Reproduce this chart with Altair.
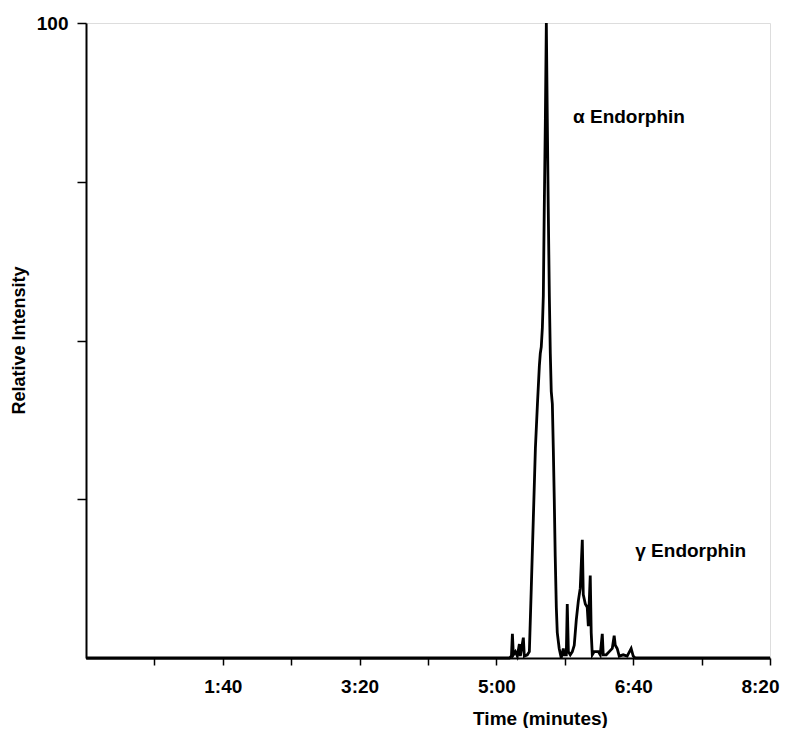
import altair as alt
import pandas as pd

# Chromatogram trace: time (s) and relative intensity (%)
time_s = [0, 100, 200, 300, 309.5, 311.0, 311.7, 312.4, 313.9, 315.3, 316.8, 317.5, 319.7, 320.4,
          322.6, 324.1, 325.5, 327.0, 328.5, 330.0, 331.4, 332.1, 332.8, 333.6, 334.3, 335.0,
          335.8, 336.5, 337.2, 337.9, 338.7, 339.4, 340.1, 340.9, 341.6, 342.3, 343.0, 343.8,
          344.5, 345.9, 347.4, 348.9, 349.6, 351.1, 351.8, 352.6, 354.0, 355.5, 356.9, 358.4,
          359.9, 361.3, 362.8, 363.5, 365.0, 366.4, 367.2, 368.6, 369.3, 370.1, 371.5, 373.0,
          374.5, 375.9, 377.4, 378.1, 380.3, 382.5, 384.7, 386.1, 386.9, 388.3, 389.8, 392.7,
          395.6, 398.5, 400.0, 401.5, 450, 500]
intensity = [0, 0, 0, 0, 0, 0.3, 3.8, 0.5, 1.0, 0.3, 2.2, 0.3, 3.2, 0.3,
             0.5, 1.0, 11, 22, 33, 40, 46, 48, 49, 52, 57, 71,
             85, 100, 85, 71, 57, 48, 42, 40, 33, 25, 16, 8,
             4, 1.5, 0, 1.5, 0.5, 0.5, 8.5, 1.0, 0.5, 1.0, 2.0, 6.0,
             9.0, 11, 18.6, 10, 8.5, 8.0, 5.0, 13, 4.0, 0.5, 1.0, 1.0,
             1.0, 0.5, 3.8, 0.5, 0.5, 1.0, 1.5, 3.5, 2.0, 1.5, 0.3, 0.5,
             0.3, 1.5, 0.3, 0, 0, 0]

x_tick_values = [50, 100, 150, 200, 250, 300, 350, 400, 450, 500]
x_tick_labels = {100: "1:40", 200: "3:20", 300: "5:00", 400: "6:40", 500: "8:20"}
y_tick_values = [25, 50, 75, 100]
y_tick_labels = {100: "100"}

ann_text = ["\u03b1 Endorphin", "\u03b3 Endorphin"]
ann_time = [356, 401.5]
ann_int = [84.3, 15.9]

FONT = "Liberation Sans"


def label_expr(mapping):
    expr = "''"
    for k, v in mapping.items():
        expr = f"datum.value == {k} ? '{v}' : ({expr})"
    return expr


trace = pd.DataFrame({"t": time_s, "i": intensity})
ann = pd.DataFrame({"text": ann_text, "t": ann_time, "i": ann_int})

x_scale = alt.Scale(domain=[0, 500], nice=False, zero=False)
y_scale = alt.Scale(domain=[0, 100], nice=False)

line = alt.Chart(trace).mark_line(color="black", strokeWidth=2.8, strokeJoin="miter").encode(
    x=alt.X("t:Q", scale=x_scale, axis=alt.Axis(
        values=x_tick_values, labelExpr=label_expr(x_tick_labels), title="Time (minutes)",
        grid=False, domainColor="black", domainWidth=2, tickColor="black", tickWidth=1.5,
        tickSize=7, labelPadding=12, labelFont=FONT, labelFontSize=19, labelFontWeight="bold",
        labelColor="black", labelFlush=True, labelFlushOffset=9, labelOverlap=False,
        titleFont=FONT, titleFontSize=19, titleFontWeight="bold", titleColor="black",
        titleX=454, titleY=66, titleBaseline="alphabetic", titleAlign="center")),
    y=alt.Y("i:Q", scale=y_scale, axis=alt.Axis(
        values=y_tick_values, labelExpr=label_expr(y_tick_labels), title="Relative Intensity",
        grid=False, domainColor="black", domainWidth=2, tickColor="black", tickWidth=1.5,
        tickSize=9, labelPadding=9, labelFont=FONT, labelFontSize=19, labelFontWeight="bold",
        labelColor="black", labelFlush=False, labelOverlap=False, labelBaseline="middle",
        titleFont=FONT, titleFontSize=18, titleFontWeight="bold", titleColor="black",
        titleX=-67, titleY=317, titleAngle=-90, titleBaseline="middle", titleAlign="center")),
)

text = alt.Chart(ann).mark_text(align="left", baseline="alphabetic", font=FONT, fontSize=19,
                                fontWeight="bold", color="black").encode(
    x=alt.X("t:Q", scale=x_scale), y=alt.Y("i:Q", scale=y_scale), text="text:N")

chart = alt.layer(line, text).properties(
    width=684, height=635,
    autosize=alt.AutoSizeParams(type="none"),
    padding={"left": 78, "top": 15, "right": 11, "bottom": 70},
).configure_view(stroke=None).configure(background="white")

chart.save("out.html", embed_options={"renderer": "svg", "actions": False})
